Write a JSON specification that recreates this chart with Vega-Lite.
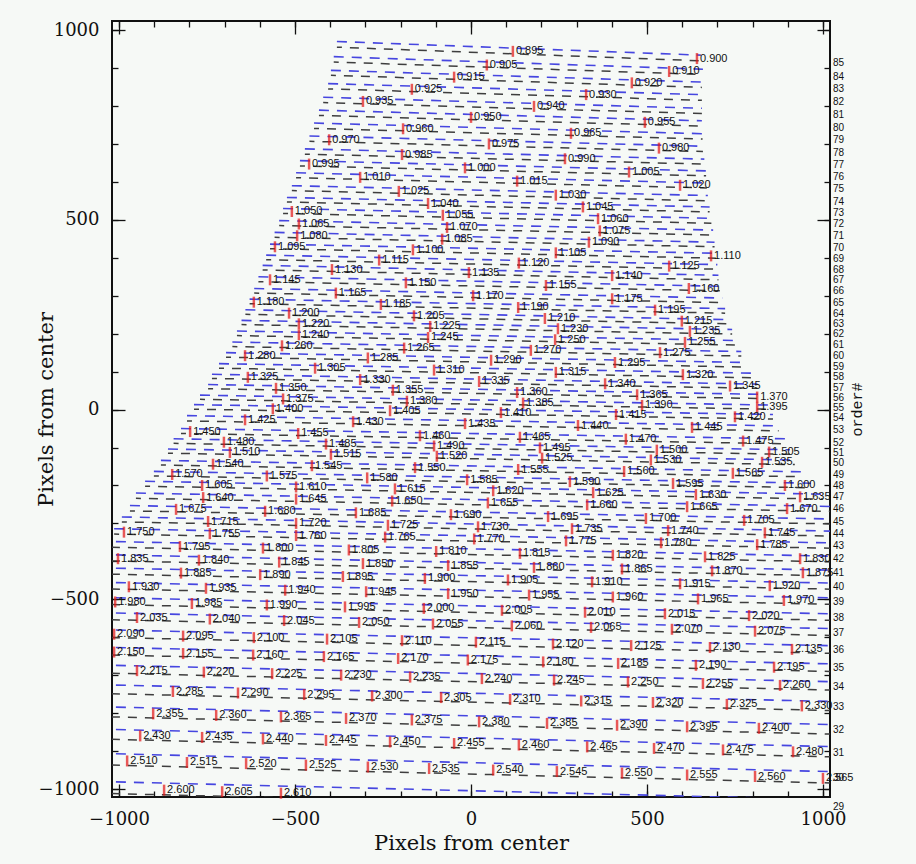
{
"$schema":"https://vega.github.io/schema/vega-lite/v6.json",
"width":718,"height":776,
"autosize":{"type":"none"},
"padding":{"left":112,"top":21,"right":86,"bottom":67},
"background":"#f6f9f6",
"config":{"view":{"stroke":"#111","strokeWidth":2},
"axis":{"domain":false,"grid":false,"tickColor":"#111","tickWidth":1.3,"labelFont":"DejaVu Serif","labelFontSize":18,"labelColor":"#111","labelFlush":false,"labelOverlap":false,"titleFont":"DejaVu Serif","titleFontSize":21,"titleFontWeight":"normal","titleColor":"#111","format":"d"}},
"datasets":{
"blue":[
{"order":85,"x":-381,"y":970},{"order":85,"x":653,"y":934},
{"order":84,"x":-390,"y":930},{"order":84,"x":659,"y":897},
{"order":83,"x":-398,"y":894},{"order":83,"x":656,"y":863},
{"order":82,"x":-406,"y":859},{"order":82,"x":656,"y":830},
{"order":81,"x":-420,"y":823},{"order":81,"x":656,"y":794},
{"order":80,"x":-432,"y":789},{"order":80,"x":656,"y":761},
{"order":79,"x":-446,"y":755},{"order":79,"x":658,"y":727},
{"order":78,"x":-459,"y":721},{"order":78,"x":659,"y":694},
{"order":77,"x":-472,"y":687},{"order":77,"x":663,"y":660},
{"order":76,"x":-486,"y":656},{"order":76,"x":668,"y":629},
{"order":75,"x":-497,"y":624},{"order":75,"x":670,"y":597},
{"order":74,"x":-509,"y":590},{"order":74,"x":673,"y":564},
{"order":73,"x":-523,"y":559},{"order":73,"x":678,"y":534},
{"order":72,"x":-534,"y":530},{"order":72,"x":683,"y":504},
{"order":71,"x":-545,"y":498},{"order":71,"x":688,"y":473},
{"order":70,"x":-558,"y":467},{"order":70,"x":692,"y":441},
{"order":69,"x":-571,"y":436},{"order":69,"x":696,"y":412},
{"order":68,"x":-582,"y":407},{"order":68,"x":700,"y":382},
{"order":67,"x":-592,"y":380},{"order":67,"x":703,"y":354},
{"order":66,"x":-604,"y":350},{"order":66,"x":707,"y":325},
{"order":65,"x":-616,"y":319},{"order":65,"x":714,"y":294},
{"order":64,"x":-629,"y":291},{"order":64,"x":722,"y":266},
{"order":63,"x":-641,"y":263},{"order":63,"x":730,"y":237},
{"order":62,"x":-652,"y":235},{"order":62,"x":742,"y":211},
{"order":61,"x":-665,"y":207},{"order":61,"x":754,"y":182},
{"order":60,"x":-678,"y":178},{"order":60,"x":768,"y":153},
{"order":59,"x":-696,"y":150},{"order":59,"x":783,"y":124},
{"order":58,"x":-716,"y":121},{"order":58,"x":797,"y":96},
{"order":57,"x":-736,"y":93},{"order":57,"x":814,"y":67},
{"order":56,"x":-747,"y":66},{"order":56,"x":830,"y":40},
{"order":55,"x":-770,"y":38},{"order":55,"x":844,"y":12},
{"order":54,"x":-787,"y":13},{"order":54,"x":858,"y":-13},
{"order":53,"x":-807,"y":-16},{"order":53,"x":874,"y":-43},
{"order":52,"x":-824,"y":-50},{"order":52,"x":892,"y":-77},
{"order":51,"x":-845,"y":-77},{"order":51,"x":906,"y":-106},
{"order":50,"x":-861,"y":-104},{"order":50,"x":920,"y":-133},
{"order":49,"x":-881,"y":-134},{"order":49,"x":938,"y":-164},
{"order":48,"x":-901,"y":-163},{"order":48,"x":966,"y":-194},
{"order":47,"x":-926,"y":-189},{"order":47,"x":1000,"y":-223},
{"order":46,"x":-952,"y":-220},{"order":46,"x":1060,"y":-256},
{"order":45,"x":-969,"y":-253},{"order":45,"x":1060,"y":-289},
{"order":44,"x":-992,"y":-283},{"order":44,"x":1060,"y":-321},
{"order":43,"x":-1014,"y":-314},{"order":43,"x":1060,"y":-352},
{"order":42,"x":-1060,"y":-347},{"order":42,"x":1060,"y":-387},
{"order":41,"x":-1060,"y":-382},{"order":41,"x":1060,"y":-424},
{"order":40,"x":-1060,"y":-417},{"order":40,"x":1060,"y":-458},
{"order":39,"x":-1060,"y":-455},{"order":39,"x":1060,"y":-497},
{"order":38,"x":-1060,"y":-495},{"order":38,"x":1060,"y":-539},
{"order":37,"x":-1060,"y":-535},{"order":37,"x":1060,"y":-578},
{"order":36,"x":-1060,"y":-580},{"order":36,"x":1060,"y":-623},
{"order":35,"x":-1060,"y":-626},{"order":35,"x":1060,"y":-671},
{"order":34,"x":-1060,"y":-673},{"order":34,"x":1060,"y":-718},
{"order":33,"x":-1060,"y":-725},{"order":33,"x":1060,"y":-770},
{"order":32,"x":-1060,"y":-783},{"order":32,"x":1060,"y":-831},
{"order":31,"x":-1060,"y":-842},{"order":31,"x":1060,"y":-889},
{"order":30,"x":-1060,"y":-906},{"order":30,"x":1060,"y":-955},
{"order":29,"x":-1060,"y":-980},{"order":29,"x":1060,"y":-1029}
],
"gray":[
{"order":85,"x":-381,"y":955},{"order":85,"x":653,"y":919},
{"order":84,"x":-390,"y":916},{"order":84,"x":659,"y":883},
{"order":83,"x":-398,"y":881},{"order":83,"x":656,"y":849},
{"order":82,"x":-406,"y":845},{"order":82,"x":656,"y":815},
{"order":81,"x":-420,"y":809},{"order":81,"x":656,"y":780},
{"order":80,"x":-432,"y":775},{"order":80,"x":656,"y":747},
{"order":79,"x":-446,"y":741},{"order":79,"x":658,"y":713},
{"order":78,"x":-459,"y":707},{"order":78,"x":659,"y":680},
{"order":77,"x":-472,"y":673},{"order":77,"x":663,"y":647},
{"order":76,"x":-486,"y":642},{"order":76,"x":668,"y":616},
{"order":75,"x":-497,"y":611},{"order":75,"x":670,"y":584},
{"order":74,"x":-509,"y":577},{"order":74,"x":673,"y":550},
{"order":73,"x":-523,"y":547},{"order":73,"x":678,"y":521},
{"order":72,"x":-534,"y":517},{"order":72,"x":683,"y":491},
{"order":71,"x":-545,"y":485},{"order":71,"x":688,"y":460},
{"order":70,"x":-558,"y":454},{"order":70,"x":692,"y":429},
{"order":69,"x":-571,"y":424},{"order":69,"x":696,"y":399},
{"order":68,"x":-582,"y":395},{"order":68,"x":700,"y":370},
{"order":67,"x":-592,"y":368},{"order":67,"x":703,"y":342},
{"order":66,"x":-604,"y":337},{"order":66,"x":707,"y":313},
{"order":65,"x":-616,"y":307},{"order":65,"x":714,"y":282},
{"order":64,"x":-629,"y":279},{"order":64,"x":722,"y":254},
{"order":63,"x":-641,"y":251},{"order":63,"x":730,"y":226},
{"order":62,"x":-652,"y":224},{"order":62,"x":742,"y":199},
{"order":61,"x":-665,"y":195},{"order":61,"x":754,"y":170},
{"order":60,"x":-678,"y":166},{"order":60,"x":768,"y":141},
{"order":59,"x":-696,"y":138},{"order":59,"x":783,"y":112},
{"order":58,"x":-716,"y":109},{"order":58,"x":797,"y":84},
{"order":57,"x":-736,"y":82},{"order":57,"x":814,"y":56},
{"order":56,"x":-747,"y":55},{"order":56,"x":830,"y":29},
{"order":55,"x":-770,"y":27},{"order":55,"x":844,"y":1},
{"order":54,"x":-787,"y":1},{"order":54,"x":858,"y":-25},
{"order":53,"x":-807,"y":-30},{"order":53,"x":874,"y":-56},
{"order":52,"x":-824,"y":-63},{"order":52,"x":892,"y":-90},
{"order":51,"x":-845,"y":-89},{"order":51,"x":906,"y":-118},
{"order":50,"x":-861,"y":-115},{"order":50,"x":920,"y":-145},
{"order":49,"x":-881,"y":-146},{"order":49,"x":938,"y":-177},
{"order":48,"x":-901,"y":-175},{"order":48,"x":966,"y":-206},
{"order":47,"x":-926,"y":-202},{"order":47,"x":1000,"y":-236},
{"order":46,"x":-952,"y":-234},{"order":46,"x":1060,"y":-269},
{"order":45,"x":-969,"y":-267},{"order":45,"x":1060,"y":-302},
{"order":44,"x":-992,"y":-296},{"order":44,"x":1060,"y":-334},
{"order":43,"x":-1014,"y":-328},{"order":43,"x":1060,"y":-366},
{"order":42,"x":-1060,"y":-362},{"order":42,"x":1060,"y":-402},
{"order":41,"x":-1060,"y":-398},{"order":41,"x":1060,"y":-439},
{"order":40,"x":-1060,"y":-433},{"order":40,"x":1060,"y":-474},
{"order":39,"x":-1060,"y":-472},{"order":39,"x":1060,"y":-514},
{"order":38,"x":-1060,"y":-513},{"order":38,"x":1060,"y":-556},
{"order":37,"x":-1060,"y":-553},{"order":37,"x":1060,"y":-596},
{"order":36,"x":-1060,"y":-600},{"order":36,"x":1060,"y":-643},
{"order":35,"x":-1060,"y":-646},{"order":35,"x":1060,"y":-691},
{"order":34,"x":-1060,"y":-694},{"order":34,"x":1060,"y":-740},
{"order":33,"x":-1060,"y":-748},{"order":33,"x":1060,"y":-794},
{"order":32,"x":-1060,"y":-809},{"order":32,"x":1060,"y":-856},
{"order":31,"x":-1060,"y":-868},{"order":31,"x":1060,"y":-916},
{"order":30,"x":-1060,"y":-936},{"order":30,"x":1060,"y":-985},
{"order":29,"x":-1060,"y":-1011},{"order":29,"x":1060,"y":-1060}
],
"labels":[
{"label":"0.895","x":119,"y":944},{"label":"0.900","x":642,"y":925},
{"label":"0.905","x":45,"y":908},{"label":"0.910","x":563,"y":891},
{"label":"0.915","x":-48,"y":876},{"label":"0.920","x":457,"y":861},
{"label":"0.925","x":-168,"y":844},{"label":"0.930","x":327,"y":830},
{"label":"0.935","x":-307,"y":812},{"label":"0.940","x":179,"y":799},
{"label":"0.950","x":0,"y":770},{"label":"0.955","x":494,"y":757},
{"label":"0.960","x":-193,"y":740},{"label":"0.965","x":284,"y":728},
{"label":"0.970","x":-403,"y":711},{"label":"0.975","x":51,"y":700},{"label":"0.980","x":534,"y":689},
{"label":"0.985","x":-196,"y":672},{"label":"0.990","x":267,"y":661},
{"label":"0.995","x":-460,"y":647},{"label":"1.000","x":-17,"y":637},{"label":"1.005","x":449,"y":626},
{"label":"1.010","x":-315,"y":612},{"label":"1.015","x":131,"y":602},{"label":"1.020","x":594,"y":591},
{"label":"1.025","x":-205,"y":575},{"label":"1.030","x":241,"y":565},
{"label":"1.040","x":-122,"y":543},{"label":"1.045","x":318,"y":534},
{"label":"1.050","x":-509,"y":522},{"label":"1.055","x":-80,"y":512},{"label":"1.060","x":361,"y":503},
{"label":"1.065","x":-489,"y":489},{"label":"1.070","x":-68,"y":480},{"label":"1.075","x":366,"y":471},
{"label":"1.080","x":-494,"y":458},{"label":"1.085","x":-82,"y":449},{"label":"1.090","x":335,"y":441},
{"label":"1.095","x":-557,"y":429},{"label":"1.100","x":-165,"y":421},{"label":"1.105","x":241,"y":413},{"label":"1.110","x":682,"y":405},
{"label":"1.115","x":-261,"y":394},{"label":"1.120","x":136,"y":386},{"label":"1.125","x":563,"y":378},
{"label":"1.130","x":-395,"y":369},{"label":"1.135","x":-6,"y":361},{"label":"1.140","x":401,"y":353},
{"label":"1.145","x":-571,"y":342},{"label":"1.150","x":-185,"y":334},{"label":"1.155","x":213,"y":327},{"label":"1.160","x":619,"y":319},
{"label":"1.165","x":-384,"y":307},{"label":"1.170","x":6,"y":300},{"label":"1.175","x":401,"y":292},
{"label":"1.180","x":-617,"y":283},{"label":"1.185","x":-256,"y":277},{"label":"1.190","x":134,"y":269},{"label":"1.195","x":523,"y":262},
{"label":"1.200","x":-517,"y":254},{"label":"1.205","x":-162,"y":247},{"label":"1.210","x":210,"y":240},{"label":"1.215","x":599,"y":233},
{"label":"1.220","x":-489,"y":226},{"label":"1.225","x":-116,"y":219},{"label":"1.230","x":247,"y":213},{"label":"1.235","x":622,"y":206},
{"label":"1.240","x":-489,"y":197},{"label":"1.245","x":-122,"y":190},{"label":"1.250","x":239,"y":184},{"label":"1.255","x":608,"y":177},
{"label":"1.260","x":-537,"y":168},{"label":"1.265","x":-190,"y":162},{"label":"1.270","x":170,"y":156},{"label":"1.275","x":537,"y":150},
{"label":"1.280","x":-642,"y":142},{"label":"1.285","x":-293,"y":136},{"label":"1.290","x":57,"y":130},{"label":"1.295","x":409,"y":124},
{"label":"1.305","x":-443,"y":109},{"label":"1.310","x":-105,"y":104},{"label":"1.315","x":241,"y":98},{"label":"1.320","x":602,"y":92},
{"label":"1.325","x":-634,"y":85},{"label":"1.330","x":-315,"y":79},{"label":"1.335","x":23,"y":74},{"label":"1.340","x":381,"y":68},{"label":"1.345","x":736,"y":62},
{"label":"1.350","x":-554,"y":56},{"label":"1.355","x":-222,"y":51},{"label":"1.360","x":131,"y":45},{"label":"1.365","x":472,"y":39},{"label":"1.370","x":813,"y":33},
{"label":"1.375","x":-534,"y":28},{"label":"1.380","x":-182,"y":22},{"label":"1.385","x":148,"y":17},{"label":"1.390","x":486,"y":11},{"label":"1.395","x":813,"y":6},
{"label":"1.400","x":-563,"y":2},{"label":"1.405","x":-230,"y":-3},{"label":"1.410","x":85,"y":-8},{"label":"1.415","x":412,"y":-13},{"label":"1.420","x":750,"y":-19},
{"label":"1.425","x":-642,"y":-27},{"label":"1.430","x":-335,"y":-32},{"label":"1.435","x":-17,"y":-37},{"label":"1.440","x":304,"y":-42},{"label":"1.445","x":628,"y":-47},
{"label":"1.450","x":-798,"y":-58},{"label":"1.455","x":-491,"y":-63},{"label":"1.460","x":-145,"y":-69},{"label":"1.465","x":139,"y":-73},{"label":"1.470","x":440,"y":-78},{"label":"1.475","x":773,"y":-83},
{"label":"1.480","x":-702,"y":-86},{"label":"1.485","x":-412,"y":-91},{"label":"1.490","x":-105,"y":-96},{"label":"1.495","x":196,"y":-101},{"label":"1.500","x":528,"y":-107},{"label":"1.505","x":847,"y":-112},
{"label":"1.510","x":-685,"y":-113},{"label":"1.515","x":-398,"y":-118},{"label":"1.520","x":-97,"y":-123},{"label":"1.525","x":202,"y":-128},{"label":"1.530","x":511,"y":-133},{"label":"1.535","x":827,"y":-139},
{"label":"1.540","x":-733,"y":-144},{"label":"1.545","x":-452,"y":-148},{"label":"1.550","x":-159,"y":-153},{"label":"1.555","x":134,"y":-158},{"label":"1.560","x":435,"y":-163},{"label":"1.565","x":744,"y":-168},
{"label":"1.570","x":-849,"y":-171},{"label":"1.575","x":-580,"y":-175},{"label":"1.580","x":-295,"y":-180},{"label":"1.585","x":-11,"y":-185},{"label":"1.590","x":281,"y":-190},{"label":"1.595","x":574,"y":-195},{"label":"1.600","x":892,"y":-200},
{"label":"1.605","x":-764,"y":-200},{"label":"1.610","x":-497,"y":-204},{"label":"1.615","x":-216,"y":-209},{"label":"1.620","x":63,"y":-214},{"label":"1.625","x":347,"y":-219},{"label":"1.630","x":639,"y":-224},{"label":"1.635","x":935,"y":-230},
{"label":"1.640","x":-761,"y":-232},{"label":"1.645","x":-497,"y":-236},{"label":"1.650","x":-224,"y":-241},{"label":"1.655","x":48,"y":-246},{"label":"1.660","x":330,"y":-251},{"label":"1.665","x":614,"y":-256},{"label":"1.670","x":898,"y":-261},
{"label":"1.675","x":-838,"y":-263},{"label":"1.680","x":-585,"y":-268},{"label":"1.685","x":-327,"y":-272},{"label":"1.690","x":-57,"y":-277},{"label":"1.695","x":219,"y":-282},{"label":"1.700","x":497,"y":-287},{"label":"1.705","x":776,"y":-292},
{"label":"1.715","x":-747,"y":-295},{"label":"1.720","x":-497,"y":-300},{"label":"1.725","x":-236,"y":-305},{"label":"1.730","x":20,"y":-309},{"label":"1.735","x":287,"y":-314},{"label":"1.740","x":560,"y":-319},{"label":"1.745","x":835,"y":-325},
{"label":"1.750","x":-986,"y":-323},{"label":"1.755","x":-742,"y":-327},{"label":"1.760","x":-497,"y":-332},{"label":"1.765","x":-244,"y":-336},{"label":"1.770","x":9,"y":-341},{"label":"1.775","x":270,"y":-346},{"label":"1.780","x":540,"y":-351},{"label":"1.785","x":813,"y":-356},
{"label":"1.795","x":-827,"y":-361},{"label":"1.800","x":-591,"y":-365},{"label":"1.805","x":-347,"y":-370},{"label":"1.810","x":-99,"y":-374},{"label":"1.815","x":139,"y":-379},{"label":"1.820","x":403,"y":-384},{"label":"1.825","x":665,"y":-388},{"label":"1.830","x":935,"y":-393},
{"label":"1.835","x":-1003,"y":-393},{"label":"1.840","x":-773,"y":-397},{"label":"1.845","x":-545,"y":-402},{"label":"1.850","x":-307,"y":-406},{"label":"1.855","x":-65,"y":-411},{"label":"1.860","x":179,"y":-416},{"label":"1.865","x":429,"y":-420},{"label":"1.870","x":685,"y":-425},{"label":"1.875","x":943,"y":-430},
{"label":"1.885","x":-824,"y":-431},{"label":"1.890","x":-599,"y":-435},{"label":"1.895","x":-364,"y":-440},{"label":"1.900","x":-131,"y":-445},{"label":"1.905","x":105,"y":-449},{"label":"1.910","x":344,"y":-454},{"label":"1.915","x":594,"y":-459},{"label":"1.920","x":849,"y":-464},
{"label":"1.930","x":-972,"y":-467},{"label":"1.935","x":-753,"y":-471},{"label":"1.940","x":-528,"y":-476},{"label":"1.945","x":-298,"y":-480},{"label":"1.950","x":-65,"y":-485},{"label":"1.955","x":165,"y":-489},{"label":"1.960","x":403,"y":-494},{"label":"1.965","x":645,"y":-499},{"label":"1.970","x":889,"y":-503},
{"label":"1.980","x":-1011,"y":-507},{"label":"1.985","x":-793,"y":-511},{"label":"1.990","x":-580,"y":-515},{"label":"1.995","x":-358,"y":-520},{"label":"2.000","x":-134,"y":-524},{"label":"2.005","x":88,"y":-529},{"label":"2.010","x":324,"y":-534},{"label":"2.015","x":551,"y":-538},{"label":"2.020","x":790,"y":-543},
{"label":"2.035","x":-949,"y":-548},{"label":"2.040","x":-742,"y":-552},{"label":"2.045","x":-531,"y":-556},{"label":"2.050","x":-318,"y":-561},{"label":"2.055","x":-108,"y":-565},{"label":"2.060","x":116,"y":-570},{"label":"2.065","x":341,"y":-574},{"label":"2.070","x":571,"y":-579},{"label":"2.075","x":807,"y":-584},
{"label":"2.090","x":-1014,"y":-592},{"label":"2.095","x":-818,"y":-597},{"label":"2.100","x":-617,"y":-601},{"label":"2.105","x":-409,"y":-605},{"label":"2.110","x":-196,"y":-609},{"label":"2.115","x":14,"y":-613},{"label":"2.120","x":233,"y":-618},{"label":"2.125","x":455,"y":-622},{"label":"2.130","x":679,"y":-627},{"label":"2.135","x":912,"y":-632},
{"label":"2.150","x":-1014,"y":-639},{"label":"2.155","x":-818,"y":-643},{"label":"2.160","x":-619,"y":-647},{"label":"2.165","x":-418,"y":-651},{"label":"2.170","x":-207,"y":-656},{"label":"2.175","x":-9,"y":-660},{"label":"2.180","x":205,"y":-665},{"label":"2.185","x":418,"y":-669},{"label":"2.190","x":639,"y":-674},{"label":"2.195","x":861,"y":-679},
{"label":"2.215","x":-949,"y":-688},{"label":"2.220","x":-759,"y":-692},{"label":"2.225","x":-565,"y":-696},{"label":"2.230","x":-369,"y":-700},{"label":"2.235","x":-173,"y":-705},{"label":"2.240","x":31,"y":-709},{"label":"2.245","x":236,"y":-713},{"label":"2.250","x":446,"y":-718},{"label":"2.255","x":659,"y":-722},{"label":"2.260","x":878,"y":-727},
{"label":"2.285","x":-847,"y":-743},{"label":"2.290","x":-662,"y":-747},{"label":"2.295","x":-474,"y":-751},{"label":"2.300","x":-281,"y":-755},{"label":"2.305","x":-85,"y":-759},{"label":"2.310","x":111,"y":-764},{"label":"2.315","x":313,"y":-768},{"label":"2.320","x":517,"y":-772},{"label":"2.325","x":727,"y":-777},{"label":"2.330","x":940,"y":-781},
{"label":"2.355","x":-903,"y":-802},{"label":"2.360","x":-724,"y":-806},{"label":"2.365","x":-540,"y":-810},{"label":"2.370","x":-355,"y":-814},{"label":"2.375","x":-168,"y":-818},{"label":"2.380","x":23,"y":-823},{"label":"2.385","x":216,"y":-827},{"label":"2.390","x":415,"y":-832},{"label":"2.395","x":614,"y":-836},{"label":"2.400","x":818,"y":-840},
{"label":"2.430","x":-940,"y":-860},{"label":"2.435","x":-764,"y":-864},{"label":"2.440","x":-591,"y":-868},{"label":"2.445","x":-412,"y":-872},{"label":"2.450","x":-230,"y":-876},{"label":"2.455","x":-48,"y":-880},{"label":"2.460","x":136,"y":-884},{"label":"2.465","x":330,"y":-889},{"label":"2.470","x":520,"y":-893},{"label":"2.475","x":716,"y":-897},{"label":"2.480","x":915,"y":-902},
{"label":"2.510","x":-977,"y":-926},{"label":"2.515","x":-807,"y":-930},{"label":"2.520","x":-639,"y":-933},{"label":"2.525","x":-469,"y":-937},{"label":"2.530","x":-293,"y":-942},{"label":"2.535","x":-119,"y":-946},{"label":"2.540","x":63,"y":-950},{"label":"2.545","x":244,"y":-954},{"label":"2.550","x":429,"y":-958},{"label":"2.555","x":614,"y":-963},{"label":"2.560","x":807,"y":-967},{"label":"2.565","x":1000,"y":-972},
{"label":"2.600","x":-872,"y":-1003},{"label":"2.605","x":-707,"y":-1007},{"label":"2.610","x":-540,"y":-1011}
],
"orders":[
{"order":85,"y":912},{"order":84,"y":877},{"order":83,"y":844},{"order":82,"y":811},{"order":81,"y":776},{"order":80,"y":743},{"order":79,"y":710},{"order":78,"y":677},{"order":77,"y":644},{"order":76,"y":613},{"order":75,"y":581},{"order":74,"y":548},{"order":73,"y":519},{"order":72,"y":489},{"order":71,"y":458},{"order":70,"y":427},{"order":69,"y":398},{"order":68,"y":369},{"order":67,"y":341},{"order":66,"y":312},{"order":65,"y":281},{"order":64,"y":253},{"order":63,"y":225},{"order":62,"y":199},{"order":61,"y":170},{"order":60,"y":141},{"order":59,"y":113},{"order":58,"y":85},{"order":57,"y":57},{"order":56,"y":30},{"order":55,"y":3},{"order":54,"y":-23},{"order":53,"y":-53},{"order":52,"y":-87},{"order":51,"y":-115},{"order":50,"y":-142},{"order":49,"y":-173},{"order":48,"y":-202},{"order":47,"y":-231},{"order":46,"y":-263},{"order":45,"y":-296},{"order":44,"y":-328},{"order":43,"y":-360},{"order":42,"y":-395},{"order":41,"y":-432},{"order":40,"y":-467},{"order":39,"y":-506},{"order":38,"y":-548},{"order":37,"y":-588},{"order":36,"y":-634},{"order":35,"y":-682},{"order":34,"y":-730},{"order":33,"y":-783},{"order":32,"y":-845},{"order":31,"y":-904},{"order":30,"y":-972},{"order":29,"y":-1047}
]
},
"layer":[
{"data":{"name":"blue"},
"mark":{"type":"line","clip":true,"color":"#4646e0","strokeWidth":1.6,"strokeDash":[10,8]},
"encoding":{
"x":{"field":"x","type":"quantitative","scale":{"domain":[-1020,1020],"nice":false,"zero":false},
"axis":{"orient":"bottom","values":[-1000,-500,0,500,1000],"tickSize":-13,"labelPadding":26,"title":"Pixels from center","titleY":46,"titleBaseline":"middle"}},
"y":{"field":"y","type":"quantitative","scale":{"domain":[-1021,1024],"nice":false,"zero":false},
"axis":{"orient":"left","values":[-1000,-500,0,500,1000],"tickSize":-13,"labelPadding":26,"title":"Pixels from center","titleX":-66,"titleBaseline":"middle"}},
"detail":{"field":"order","type":"nominal"}}},
{"data":{"name":"gray"},
"mark":{"type":"line","clip":true,"color":"#3e3e3e","strokeWidth":1.5,"strokeDash":[9,8],"strokeDashOffset":4},
"encoding":{
"x":{"field":"x","type":"quantitative","axis":{"orient":"bottom","values":[-1000,-900,-800,-700,-600,-500,-400,-300,-200,-100,0,100,200,300,400,500,600,700,800,900,1000],"tickSize":-6,"labels":false,"title":null}},
"y":{"field":"y","type":"quantitative","axis":{"orient":"left","values":[-1000,-900,-800,-700,-600,-500,-400,-300,-200,-100,0,100,200,300,400,500,600,700,800,900,1000],"tickSize":-6,"labels":false,"title":null}},
"detail":{"field":"order","type":"nominal"}}},
{"data":{"name":"labels"},
"mark":{"type":"tick","orient":"vertical","color":"#e21414","thickness":2.5,"size":11},
"encoding":{
"x":{"field":"x","type":"quantitative","axis":{"orient":"top","values":[-1000,-500,0,500,1000],"tickSize":-13,"labels":false,"title":null}},
"y":{"field":"y","type":"quantitative","axis":{"orient":"right","values":[-1000,-500,0,500,1000],"tickSize":-13,"labels":false,"title":"order#","titleAngle":270,"titleX":26,"titleBaseline":"middle","titleFont":"Liberation Mono","titleFontSize":15}}}},
{"data":{"name":"labels"},
"mark":{"type":"text","align":"left","baseline":"middle","dx":3,"fontSize":11,"font":"Liberation Sans","color":"#111"},
"encoding":{
"x":{"field":"x","type":"quantitative","axis":{"orient":"top","values":[-1000,-900,-800,-700,-600,-500,-400,-300,-200,-100,0,100,200,300,400,500,600,700,800,900,1000],"tickSize":-6,"labels":false,"title":null}},
"y":{"field":"y","type":"quantitative","axis":{"orient":"right","values":[-1000,-900,-800,-700,-600,-500,-400,-300,-200,-100,0,100,200,300,400,500,600,700,800,900,1000],"tickSize":-6,"labels":false,"title":null}},
"text":{"field":"label","type":"nominal"}}},
{"data":{"name":"orders"},
"mark":{"type":"text","align":"left","baseline":"middle","dx":3,"fontSize":10,"font":"Liberation Sans","color":"#111"},
"encoding":{
"x":{"datum":1020,"type":"quantitative","axis":null},
"y":{"field":"y","type":"quantitative","axis":null},
"text":{"field":"order","type":"quantitative"}}}
],
"resolve":{"axis":{"x":"independent","y":"independent"}}
}
